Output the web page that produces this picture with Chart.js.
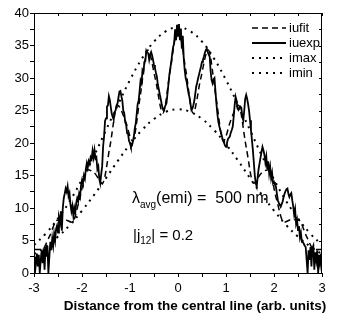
<!DOCTYPE html>
<html>
<head>
<meta charset="utf-8">
<script src="https://cdn.jsdelivr.net/npm/chart.js@4.4.0/dist/chart.umd.min.js"></script>
<style>
  html, body { margin: 0; padding: 0; background: #fff; }
</style>
</head>
<body>
<canvas id="grafico" width="341" height="320"></canvas>
<script>
// ── Data ─────────────────────────────────────────────────────────────────────
const X_TICKS = [-3, -2, -1, 0, 1, 2, 3];
const Y_TICKS = [0, 5, 10, 15, 20, 25, 30, 35, 40];

// envelopes (imax / imin)
const envX  = [-3, -2.75, -2.5, -2.25, -2, -1.75, -1.5, -1.25, -1, -0.75, -0.5, -0.25, 0,
               0.25, 0.5, 0.75, 1, 1.25, 1.5, 1.75, 2, 2.25, 2.5, 2.75, 3];
const imaxY = [4.3, 6.1, 8.4, 11.1, 14.4, 18.0, 22.0, 25.9, 29.7, 33.0, 35.6, 37.2, 37.8,
               37.2, 35.6, 33.0, 29.7, 25.9, 22.0, 18.0, 14.4, 11.1, 8.4, 6.1, 4.3];
const iminY = [2.9, 4.1, 5.6, 7.4, 9.6, 12.0, 14.6, 17.3, 19.8, 22.0, 23.7, 24.8, 25.2,
               24.8, 23.7, 22.0, 19.8, 17.3, 14.6, 12.0, 9.6, 7.4, 5.6, 4.1, 2.9];

// fit (iufit)
const fitX = [-2.99, -2.835, -2.68, -2.52, -2.36, -2.205, -2.05, -1.89, -1.73, -1.575,
              -1.42, -1.26, -1.10, -0.945, -0.79, -0.63, -0.47, -0.315, -0.16, 0,
              0.16, 0.315, 0.47, 0.63, 0.79, 0.945, 1.10, 1.26, 1.42, 1.575,
              1.73, 1.89, 2.05, 2.205, 2.36, 2.52, 2.68, 2.835, 2.99];
const fitY = [3.6, 3.6, 5.6, 8.1, 8.2, 7.8, 11.4, 15.9, 15.3, 13.8,
              19.4, 25.8, 23.5, 20.3, 27.1, 34.3, 29.8, 24.6, 31.3, 37.8,
              31.3, 24.6, 29.8, 34.3, 27.1, 20.3, 23.5, 25.8, 19.4, 13.8,
              15.3, 15.9, 11.4, 7.8, 8.2, 8.1, 5.6, 3.6, 3.6];

// experiment (iuexp)
const expX = [
  -3.00, -2.98, -2.96, -2.94, -2.92, -2.90, -2.88, -2.86, -2.84, -2.82,
  -2.80, -2.78, -2.76, -2.74, -2.72, -2.70, -2.68, -2.66, -2.64, -2.62,
  -2.60, -2.58, -2.56, -2.54, -2.52, -2.50, -2.48, -2.46, -2.44, -2.42,
  -2.40, -2.38, -2.36, -2.34, -2.32, -2.30, -2.28, -2.26, -2.24, -2.22,
  -2.20, -2.18, -2.16, -2.14, -2.12, -2.10, -2.08, -2.06, -2.04, -2.02,
  -2.00, -1.98, -1.96, -1.94, -1.92, -1.90, -1.88, -1.86, -1.84, -1.82,
  -1.80, -1.78, -1.76, -1.74, -1.72, -1.70, -1.68, -1.66, -1.64, -1.62,
  -1.60, -1.58, -1.56, -1.54, -1.52, -1.50, -1.48, -1.46, -1.44, -1.42,
  -1.40, -1.38, -1.36, -1.34, -1.32, -1.30, -1.28, -1.26, -1.24, -1.22,
  -1.20, -1.18, -1.16, -1.14, -1.12, -1.10, -1.08, -1.06, -1.04, -1.02,
  -1.00, -0.98, -0.96, -0.94, -0.92, -0.90, -0.88, -0.86, -0.84, -0.82,
  -0.80, -0.78, -0.76, -0.74, -0.72, -0.70, -0.68, -0.66, -0.64, -0.62,
  -0.60, -0.58, -0.56, -0.54, -0.52, -0.50, -0.48, -0.46, -0.44, -0.42,
  -0.40, -0.38, -0.36, -0.34, -0.32, -0.30, -0.28, -0.26, -0.24, -0.22,
  -0.20, -0.18, -0.16, -0.14, -0.12, -0.10, -0.08, -0.06, -0.04, -0.02,
   0.00,  0.02,  0.04,  0.06,  0.08,  0.10,  0.12,  0.14,  0.16,  0.18,
   0.20,  0.22,  0.24,  0.26,  0.28,  0.30,  0.32,  0.34,  0.36,  0.38,
   0.40,  0.42,  0.44,  0.46,  0.48,  0.50,  0.52,  0.54,  0.56,  0.58,
   0.60,  0.62,  0.64,  0.66,  0.68,  0.70,  0.72,  0.74,  0.76,  0.78,
   0.80,  0.82,  0.84,  0.86,  0.88,  0.90,  0.92,  0.94,  0.96,  0.98,
   1.00,  1.02,  1.04,  1.06,  1.08,  1.10,  1.12,  1.14,  1.16,  1.18,
   1.20,  1.22,  1.24,  1.26,  1.28,  1.30,  1.32,  1.34,  1.36,  1.38,
   1.40,  1.42,  1.44,  1.46,  1.48,  1.50,  1.52,  1.54,  1.56,  1.58,
   1.60,  1.62,  1.64,  1.66,  1.68,  1.70,  1.72,  1.74,  1.76,  1.78,
   1.80,  1.82,  1.84,  1.86,  1.88,  1.90,  1.92,  1.94,  1.96,  1.98,
   2.00,  2.02,  2.04,  2.06,  2.08,  2.10,  2.12,  2.14,  2.16,  2.18,
   2.20,  2.22,  2.24,  2.26,  2.28,  2.30,  2.32,  2.34,  2.36,  2.38,
   2.40,  2.42,  2.44,  2.46,  2.48,  2.50,  2.52,  2.54,  2.56,  2.58,
   2.60,  2.62,  2.64,  2.66,  2.68,  2.70,  2.72,  2.74,  2.76,  2.78,
   2.80,  2.82,  2.84,  2.86,  2.88,  2.90,  2.92,  2.94,  2.96,  2.98,
   3.00
];
const expY = [
  2.5, 0, 1.5, 3.0, 1.0, 2.8, 0, 2.0, 3.5, 1.5,
  3.8, 0.5, 4.0, 2.5, 4.2, 0, 2.5, 4.8, 3.5, 5.3,
  4.2, 6.0, 5.0, 6.8, 7.3, 6.2, 8.5, 7.8, 9.5, 6.5,
  10.0, 11.5, 12.2, 13.0, 12.5, 13.3, 11.8, 12.3, 10.5, 9.5,
  10.3, 8.8, 10.0, 9.3, 10.8, 11.5, 11.0, 12.2, 11.7, 13.5,
  14.3, 13.8, 15.0, 14.5, 16.0, 16.9, 16.2, 17.2, 16.8, 17.8,
  17.5, 18.8, 17.8, 18.9, 17.6, 17.8, 16.0, 16.4, 14.5, 13.8,
  15.2, 16.4, 19.5, 21.0, 23.4, 23.8, 25.6, 25.8, 27.2, 26.6,
  25.5, 24.5, 24.0, 23.6, 24.8, 25.0, 25.8, 26.1, 27.0, 27.9,
  28.0, 27.2, 26.5, 25.0, 24.6, 23.2, 22.8, 21.5, 21.4, 20.3,
  20.0, 19.4, 19.6, 20.2, 21.0, 22.3, 23.0, 24.5, 26.0, 26.5,
  28.0, 29.6, 29.2, 31.2, 30.9, 32.5, 32.6, 34.2, 33.9, 33.8,
  32.8, 33.6, 34.0, 33.5, 32.8, 32.0, 31.5, 30.8, 30.2, 29.0,
  28.3, 27.5, 26.8, 26.0, 25.3, 25.0, 25.4, 25.8, 26.1, 27.5,
  29.0, 30.5, 31.5, 32.5, 33.8, 34.8, 35.3, 37.5, 35.8, 38.2,
  36.5, 38.3, 35.8, 37.6, 34.5, 36.5, 33.0, 31.2, 30.0, 29.4,
  28.5, 27.6, 27.0, 26.0, 25.1, 25.3, 25.8, 26.5, 27.6, 28.7,
  29.3, 30.0, 30.6, 31.2, 31.8, 32.5, 32.8, 33.3, 33.9, 34.3,
  34.5, 34.0, 33.6, 33.3, 31.0, 29.7, 29.2, 29.8, 30.0, 28.0,
  26.1, 24.5, 23.3, 22.6, 22.0, 21.5, 20.9, 20.4, 20.0, 19.6,
  19.4, 20.0, 20.6, 20.8, 21.0, 21.6, 22.0, 22.5, 24.0, 25.8,
  27.1, 26.5, 25.3, 25.1, 25.5, 25.6, 25.4, 24.0, 23.5, 25.0,
  26.8, 27.4, 26.8, 26.0, 25.0, 23.5, 22.0, 20.5, 18.9, 17.0,
  15.0, 13.8, 13.3, 14.8, 16.0, 16.9, 17.8, 18.6, 19.4, 18.9,
  18.2, 17.0, 17.9, 16.0, 17.2, 15.3, 16.3, 14.6, 15.4, 13.8,
  14.0, 13.6, 13.3, 12.2, 11.2, 10.8, 10.5, 10.2, 10.6, 11.0,
  11.7, 12.2, 12.6, 12.9, 13.0, 12.2, 11.7, 12.1, 12.3, 11.2,
  10.3, 9.0, 9.8, 7.6, 8.2, 6.6, 7.2, 5.5, 6.2, 4.8,
  4.8, 4.5, 4.2, 4.0, 2.0, 0, 3.5, 2.0, 4.0, 1.0,
  3.8, 4.2, 0.5, 3.2, 2.0, 3.5, 0, 2.8, 1.5, 3.0,
  0.5
];

const FONTE = '"Liberation Sans", Arial, sans-serif';

const pares = (xs, ys) => xs.map((x, i) => ({ x, y: ys[i] }));

// ── Moldura, legenda e textos ────────────────────────────────────────────────
const moldura = {
  id: 'moldura',
  afterDraw(chart) {
    const { ctx, chartArea: a, scales: { x, y } } = chart;
    ctx.save();
    ctx.strokeStyle = '#000';
    ctx.lineWidth = 1;
    ctx.setLineDash([]);
    ctx.strokeRect(a.left + 0.5, a.top + 0.5, a.right - a.left - 1, a.bottom - a.top);

    // ticks internos no topo e na direita
    ctx.beginPath();
    x.ticks.forEach(t => {
      const px = Math.round(x.getPixelForValue(t.value)) + 0.5;
      ctx.moveTo(px, a.top);
      ctx.lineTo(px, a.top + 3);
    });
    y.ticks.forEach(t => {
      const py = Math.round(y.getPixelForValue(t.value)) + 0.5;
      ctx.moveTo(a.right, py);
      ctx.lineTo(a.right - 3, py);
    });
    ctx.stroke();

    // legenda
    ctx.font = '13px ' + FONTE;
    ctx.fillStyle = '#000';
    ctx.textAlign = 'left';
    ctx.textBaseline = 'middle';
    chart.data.datasets.forEach((ds, i) => {
      const ly = 28 + i * 15;
      ctx.beginPath();
      ctx.lineWidth = ds.borderWidth;
      ctx.setLineDash(ds.borderDash || []);
      ctx.moveTo(252, ly);
      ctx.lineTo(286, ly);
      ctx.stroke();
      ctx.fillText(ds.label, 289, ly);
    });
    ctx.setLineDash([]);

    // anotações
    ctx.font = '16px ' + FONTE;
    let tx = 132;
    ctx.fillText('λ', tx, 199);
    tx += ctx.measureText('λ').width;
    ctx.font = '10px ' + FONTE;
    ctx.fillText('avg', tx, 205);
    tx += ctx.measureText('avg').width;
    ctx.font = '16px ' + FONTE;
    ctx.fillText('(emi) =  500 nm', tx, 199);

    ctx.font = '15px ' + FONTE;
    tx = 133;
    ctx.fillText('|j', tx, 236);
    tx += ctx.measureText('|j').width;
    ctx.font = '10px ' + FONTE;
    ctx.fillText('12', tx, 241);
    tx += ctx.measureText('12').width;
    ctx.font = '15px ' + FONTE;
    ctx.fillText('| = 0.2', tx, 236);

    // título do eixo x
    ctx.font = 'bold 13.5px ' + FONTE;
    ctx.textAlign = 'center';
    ctx.fillText('Distance from the central line (arb. units)', 195, 306);
    ctx.restore();
  }
};

// ── Gráfico ──────────────────────────────────────────────────────────────────
new Chart(document.getElementById('grafico'), {
  type: 'line',
  data: {
    datasets: [
      {
        label: 'iufit',
        data: pares(fitX, fitY),
        borderColor: '#000',
        borderWidth: 1.5,
        borderDash: [6, 4],
        cubicInterpolationMode: 'monotone'
      },
      {
        label: 'iuexp',
        data: pares(expX, expY),
        borderColor: '#000',
        borderWidth: 1.8,
        tension: 0
      },
      {
        label: 'imax',
        data: pares(envX, imaxY),
        borderColor: '#000',
        borderWidth: 2,
        borderDash: [2, 5],
        tension: 0.4
      },
      {
        label: 'imin',
        data: pares(envX, iminY),
        borderColor: '#000',
        borderWidth: 2,
        borderDash: [2, 5],
        tension: 0.4
      }
    ]
  },
  options: {
    responsive: false,
    animation: false,
    layout: { padding: { top: 13, right: 19, left: 0, bottom: 0 } },
    elements: { point: { radius: 0 } },
    plugins: {
      legend: { display: false },
      tooltip: { enabled: false }
    },
    scales: {
      x: {
        type: 'linear',
        min: -3,
        max: 3,
        afterFit: s => { s.height = 47; },
        grid: { drawOnChartArea: false, tickLength: 4, tickColor: '#000' },
        border: { color: '#000', width: 1 },
        ticks: {
          stepSize: 0.5,
          autoSkip: false,
          maxRotation: 0,
          padding: 4,
          color: '#000',
          font: { family: FONTE, size: 13 },
          callback: v => X_TICKS.includes(v) ? String(v) : ''
        }
      },
      y: {
        min: 0,
        max: 40,
        afterFit: s => { s.width = 34; },
        grid: { drawOnChartArea: false, tickLength: 4, tickColor: '#000' },
        border: { color: '#000', width: 1 },
        ticks: {
          stepSize: 2.5,
          autoSkip: false,
          padding: 1,
          color: '#000',
          font: { family: FONTE, size: 13 },
          callback: v => Y_TICKS.includes(v) ? String(v) : ''
        }
      }
    }
  },
  plugins: [moldura]
});
</script>
</body>
</html>
